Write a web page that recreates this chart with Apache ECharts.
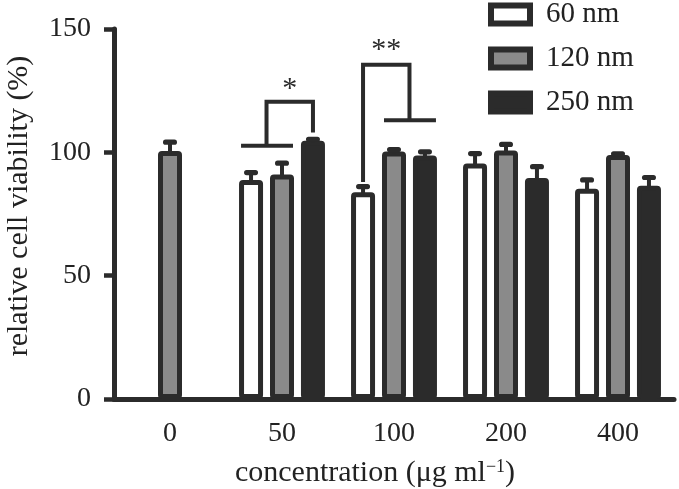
<!DOCTYPE html>
<html>
<head>
<meta charset="utf-8">
<script src="https://cdn.jsdelivr.net/npm/echarts@6/dist/echarts.min.js"></script>
<style>html,body{margin:0;padding:0;background:#fff}#c{width:679px;height:489px}</style>
</head>
<body>
<div id="c"></div>
<script>
// ---- data ----
const categories = ['0', '50', '100', '200', '400'];
const seriesNames = ['60 nm', '120 nm', '250 nm'];
const v60  = [null, 88.8, 83.8, 95.5, 85.2];
const v120 = [100.5, 91.0, 100.3, 100.7, 98.9];
const v250 = [null, 104.7, 98.7, 89.6, 86.5];
const e60  = [null, 3.0, 2.3, 4.0, 3.6];
const e120 = [3.6, 4.6, 0.8, 2.5, 0.5];
const e250 = [null, 0.6, 1.5, 4.6, 3.3];
const yTicks = [0, 50, 100, 150];
// significance brackets: category, slots of side A / side B, their levels, top level, mark level
const bracketCat   = [1, 2];
const bracketA     = [[0, 1], [0]];
const bracketALvl  = [102.7, 88.0];
const bracketB     = [[2], [1, 2]];
const bracketBLvl  = [108.0, 113.0];
const bracketTop   = [120.5, 135.5];
const bracketMark  = ['*', '**'];
const bracketMarkLvl = [125.5, 141.5];

// ---- style ----
const DARK = '#2b2b2b';
const GRAY = '#8a8a8a';
const FONT = 'Liberation Serif';
const BAR_W = 24, BAR_GAP = 0.29;
const STEP = BAR_W * (1 + BAR_GAP);

const values = [v60, v120, v250];
const errs = [e60, e120, e250];
const fills = ['#ffffff', GRAY, DARK];

const errData = [];
values.forEach((arr, s) => arr.forEach((v, i) => {
  if (v != null && errs[s][i] != null) errData.push([i, v, errs[s][i], s]);
}));

const chart = echarts.init(document.getElementById('c'), null, {renderer: 'canvas'});

const barSeries = seriesNames.map((n, s) => ({
  name: n,
  type: 'bar',
  data: values[s].map(v => v == null ? '-' : v),
  barWidth: BAR_W,
  barGap: Math.round(BAR_GAP * 100) + '%',
  itemStyle: {color: fills[s], borderColor: DARK, borderWidth: 5, borderRadius: 1.5},
  emphasis: {disabled: true},
  z: 2
}));

const errorSeries = {
  type: 'custom',
  name: 'err',
  data: errData,
  encode: {x: 0, y: 1},
  z: 3,
  silent: true,
  renderItem: function (params, api) {
    const c = api.value(0), v = api.value(1), e = api.value(2), s = api.value(3);
    const off = (s - 1) * STEP;
    const p0 = api.coord([c, v]);
    const p1 = api.coord([c, v + e]);
    const x = p0[0] + off;
    return {
      type: 'group',
      children: [
        {type: 'line', shape: {x1: x, y1: p0[1] + 2, x2: x, y2: p1[1]}, style: {stroke: DARK, lineWidth: 4}},
        {type: 'rect', shape: {x: x - 7, y: p1[1] - 2.6, width: 14, height: 5.2, r: 2.6}, style: {fill: DARK}}
      ]
    };
  }
};

const bracketSeries = {
  type: 'custom',
  name: 'sig',
  data: bracketCat.map((c, k) => [c, bracketTop[k]]),
  encode: {x: 0, y: 1},
  z: 4,
  silent: true,
  renderItem: function (params, api) {
    const k = params.dataIndex;
    const c = bracketCat[k];
    const cx = api.coord([c, 0])[0];
    const yOf = v => api.coord([c, v])[1];
    const children = [];
    const ls = {stroke: DARK, lineWidth: 4, lineCap: 'butt', lineJoin: 'miter'};
    function side(slots, lvl) {
      const xs = slots.map(s => cx + (s - 1) * STEP);
      const y = yOf(lvl);
      if (slots.length > 1) {
        const xl = Math.min(...xs) - 10, xr = Math.max(...xs) + 11;
        children.push({type: 'line', shape: {x1: xl, y1: y, x2: xr, y2: y}, style: ls});
        return {x: (Math.min(...xs) + Math.max(...xs)) / 2, y: y};
      }
      return {x: xs[0], y: y};
    }
    const a = side(bracketA[k], bracketALvl[k]);
    const b = side(bracketB[k], bracketBLvl[k]);
    const yt = yOf(bracketTop[k]);
    children.push({type: 'polyline', shape: {points: [[a.x, a.y], [a.x, yt], [b.x, yt], [b.x, b.y]]}, style: Object.assign({fill: null}, ls)});
    children.push({type: 'text', x: (a.x + b.x) / 2, y: yOf(bracketMarkLvl[k]),
      style: {text: bracketMark[k], fill: DARK, font: '30px "' + FONT + '"', align: 'center', verticalAlign: 'middle'}});
    return {type: 'group', children: children};
  }
};

chart.setOption({
  animation: false,
  backgroundColor: '#fff',
  grid: {left: 114, right: 5, top: 29, bottom: 90, containLabel: false, outerBoundsMode: 'none'},
  legend: {
    data: seriesNames,
    orient: 'vertical',
    left: 488,
    top: 0,
    padding: 0,
    itemWidth: 39,
    itemHeight: 18,
    itemGap: 15,
    icon: 'rect',
    selectedMode: false,
    itemStyle: {borderWidth: 6, borderColor: DARK},
    textStyle: {fontFamily: FONT, fontSize: 29, color: '#222', lineHeight: 27, padding: [0, 0, 0, 11]}
  },
  xAxis: {
    type: 'category',
    data: categories,
    name: 'concentration (μg ml{sup|−1})',
    nameLocation: 'middle',
    nameGap: 59,
    nameTextStyle: {fontFamily: FONT, fontSize: 30, color: '#222', padding: [0, 38, 0, 0],
      rich: {sup: {fontFamily: FONT, fontSize: 18, color: '#222', verticalAlign: 'top', padding: [0, 0, 12, 0]}}},
    axisLine: {lineStyle: {color: DARK, width: 5}},
    axisTick: {alignWithLabel: true, length: 10, lineStyle: {color: DARK, width: 4.5}},
    axisLabel: {fontFamily: FONT, fontSize: 28, color: '#222', margin: 21}
  },
  yAxis: {
    type: 'value',
    min: yTicks[0],
    max: yTicks[yTicks.length - 1],
    interval: yTicks[1] - yTicks[0],
    name: 'relative cell viability (%)',
    nameLocation: 'middle',
    nameGap: 80,
    nameTextStyle: {fontFamily: FONT, fontSize: 30, color: '#222', padding: [0, 0, 0, 16]},
    splitLine: {show: false},
    axisLine: {show: true, lineStyle: {color: DARK, width: 5}},
    axisTick: {show: true, length: 10, lineStyle: {color: DARK, width: 4.5}},
    axisLabel: {fontFamily: FONT, fontSize: 28, color: '#222', margin: 23}
  },
  series: barSeries.concat([errorSeries, bracketSeries])
});
</script>
</body>
</html>
